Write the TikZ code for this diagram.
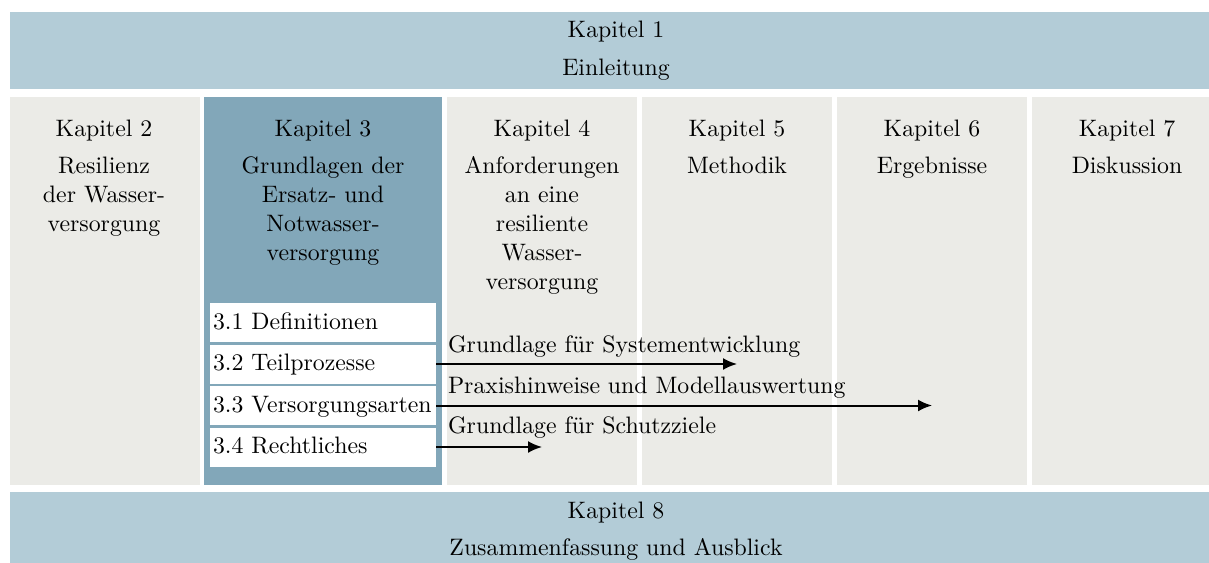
\documentclass[tikz,border=0pt]{standalone}
\usepackage{fontspec}
\setmainfont{lmroman10-regular.otf}
\usetikzlibrary{arrows.meta}

\definecolor{bandblue}{RGB}{179,204,215}
\definecolor{focusblue}{RGB}{130,167,185}
\definecolor{chapgray}{RGB}{235,235,231}

\begin{document}
\begin{tikzpicture}[x=0.5pt,y=-0.5pt,
  every node/.style={font=\fontsize{11.9}{14.5}\selectfont, inner sep=0pt, outer sep=0pt},
  band/.style={fill=bandblue, anchor=north west, minimum width=606pt},
  chapcol/.style={fill=chapgray, anchor=north west, minimum width=95pt, minimum height=194pt},
  focuscol/.style={fill=focusblue, anchor=north west, minimum width=119pt, minimum height=194pt},
  chaptitle/.style={anchor=base},
  chapbody/.style={anchor=north, align=center},
  subsec/.style={fill=white, anchor=north west, minimum height=19.5pt,
    text width=110pt, inner xsep=1.5pt, align=left,
    text height=8.4pt, text depth=1.7pt},
  flow/.style={line width=1pt, -{Latex[length=7pt,width=6pt]}},
  flowlabel/.style={anchor=base west}
]
\useasboundingbox (0,0) rectangle (1209,562);
\clip (0,0) rectangle (1209,562);

% frame: introduction and conclusion bands
\node[band, minimum height=38.5pt] (b1) at (10,12) {};
\node[band, minimum height=44pt] (b8) at (10,492) {};

% chapter columns
\node[chapcol] (c2) at (10,97) {};
\node[focuscol] (c3) at (204,97) {};
\node[chapcol] (c4) at (447,97) {};
\node[chapcol] (c5) at (642,97) {};
\node[chapcol] (c6) at (837,97) {};
\node[chapcol] (c7) at (1032,97) {};

% band texts
\node[chaptitle] (t1) at (616,37) {Kapitel 1};
\node[chaptitle] (n1) at (616,75) {Einleitung};
\node[chaptitle] (t8) at (616,518) {Kapitel 8};
\node[chaptitle] (n8) at (616,555) {Zusammenfassung und Ausblick};

% column texts
\node[chaptitle] (t2) at (104,136) {Kapitel 2};
\node[chaptitle] (t3) at (323,136) {Kapitel 3};
\node[chaptitle] (t4) at (542,136) {Kapitel 4};
\node[chaptitle] (t5) at (737,136) {Kapitel 5};
\node[chaptitle] (t6) at (932,136) {Kapitel 6};
\node[chaptitle] (t7) at (1127,136) {Kapitel 7};

\node[chapbody] (n2) at (104,156.5) {Resilienz\\der Wasser-\\versorgung};
\node[chapbody] (n3) at (323,156.5) {Grundlagen der\\Ersatz- und\\Notwasser-\\versorgung};
\node[chapbody] (n4) at (542,156.5) {Anforderungen\\an eine\\resiliente\\Wasser-\\versorgung};
\node[chapbody] (n5) at (737,156.5) {Methodik};
\node[chapbody] (n6) at (932,156.5) {Ergebnisse};
\node[chapbody] (n7) at (1127,156.5) {Diskussion};

% sections of chapter 3
\node[subsec] (s31) at (210,303) {3.1 Definitionen};
\node[subsec] (s32) at (210,344.5) {3.2 Teilprozesse};
\node[subsec] (s33) at (210,386) {3.3 Versorgungsarten};
\node[subsec] (s34) at (210,427.5) {3.4 Rechtliches};

% links into later chapters
\coordinate (e32) at (737,364);
\coordinate (e33) at (932,405.5);
\coordinate (e34) at (542,447);
\draw[flow] (s32.east) -- (e32);
\draw[flow] (s33.east) -- (e33);
\draw[flow] (s34.east) -- (e34);

\node[flowlabel] (l32) at (448,352) {Grundlage für Systementwicklung};
\node[flowlabel] (l33) at (448,393) {Praxishinweise und Modellauswertung};
\node[flowlabel] (l34) at (448,433) {Grundlage für Schutzziele};
\end{tikzpicture}
\end{document}
